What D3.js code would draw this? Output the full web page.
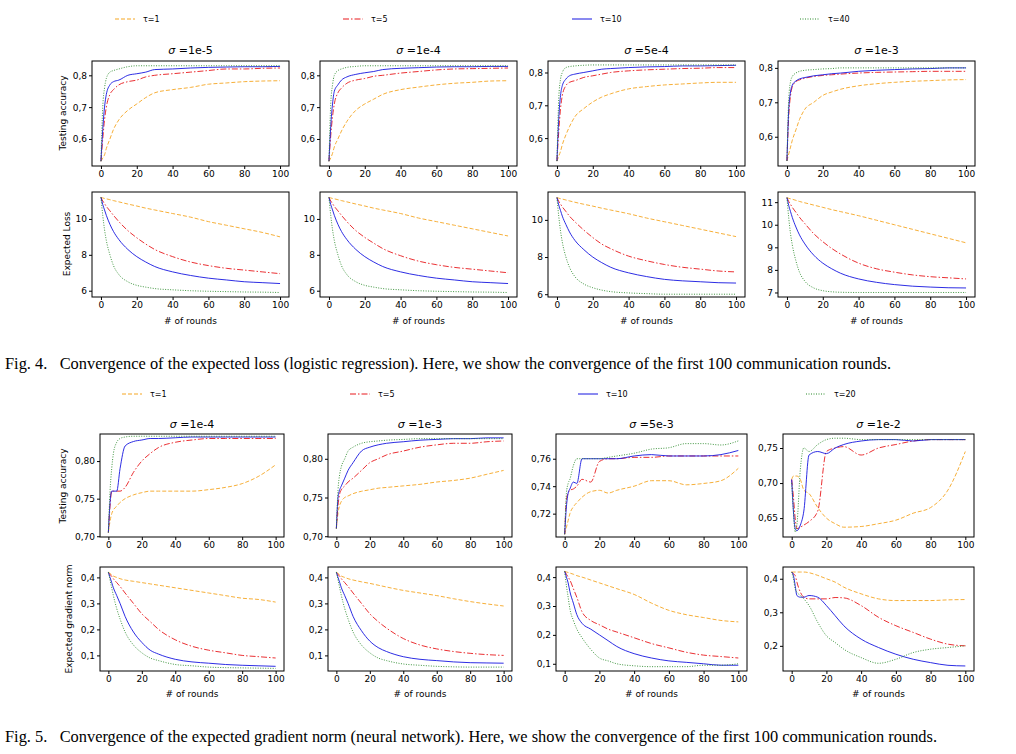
<!DOCTYPE html>
<html><head><meta charset="utf-8">
<script src="https://cdn.jsdelivr.net/npm/d3@7"></script>
<style>body{margin:0;background:#fff}</style>
</head><body><svg id="fig"></svg>
<script>
// sampled rounds shared by every curve
const rounds = [0,1,2,3,5,7,10,15,20,25,30,40,50,60,70,80,90,100];

// Fig. 4 (logistic regression)
const fig4Taus = ["τ=1","τ=5","τ=10","τ=40"];
const fig4Sigmas = ["1e-5","1e-4","5e-4","1e-3"];
const fig4Acc = [
  [[0.53,0.54,0.55,0.57,0.60,0.63,0.66,0.69,0.71,0.73,0.745,0.755,0.762,0.772,0.776,0.78,0.782,0.783],
   [0.53,0.60,0.66,0.70,0.74,0.755,0.77,0.78,0.785,0.795,0.80,0.805,0.81,0.815,0.82,0.82,0.822,0.823],
   [0.53,0.63,0.70,0.74,0.77,0.78,0.785,0.80,0.805,0.81,0.818,0.82,0.823,0.825,0.826,0.827,0.827,0.828],
   [0.53,0.70,0.76,0.79,0.81,0.815,0.82,0.827,0.83,0.83,0.83,0.83,0.83,0.83,0.83,0.83,0.83,0.83]],
  [[0.53,0.54,0.555,0.575,0.60,0.625,0.655,0.69,0.71,0.725,0.74,0.755,0.763,0.77,0.775,0.778,0.782,0.783],
   [0.53,0.61,0.67,0.71,0.745,0.76,0.775,0.785,0.79,0.797,0.80,0.807,0.812,0.817,0.82,0.821,0.822,0.823],
   [0.53,0.64,0.71,0.75,0.77,0.785,0.795,0.803,0.808,0.812,0.818,0.822,0.824,0.826,0.827,0.827,0.828,0.828],
   [0.53,0.71,0.77,0.80,0.815,0.82,0.825,0.828,0.83,0.83,0.83,0.83,0.83,0.83,0.83,0.83,0.83,0.83]],
  [[0.53,0.545,0.56,0.58,0.61,0.635,0.665,0.69,0.71,0.725,0.735,0.75,0.757,0.762,0.765,0.768,0.77,0.77],
   [0.53,0.62,0.69,0.73,0.76,0.77,0.775,0.785,0.79,0.795,0.80,0.805,0.808,0.81,0.812,0.813,0.815,0.815],
   [0.53,0.66,0.73,0.76,0.78,0.79,0.795,0.80,0.805,0.81,0.812,0.815,0.817,0.818,0.82,0.82,0.821,0.822],
   [0.53,0.72,0.78,0.80,0.815,0.818,0.82,0.822,0.823,0.823,0.823,0.823,0.823,0.823,0.823,0.823,0.823,0.823]],
  [[0.53,0.55,0.57,0.59,0.62,0.65,0.68,0.70,0.72,0.73,0.738,0.748,0.754,0.758,0.761,0.763,0.765,0.766],
   [0.53,0.66,0.72,0.745,0.76,0.765,0.77,0.775,0.778,0.78,0.782,0.785,0.787,0.788,0.789,0.79,0.79,0.79],
   [0.53,0.68,0.73,0.75,0.762,0.768,0.772,0.777,0.78,0.783,0.785,0.79,0.793,0.795,0.797,0.798,0.80,0.80],
   [0.53,0.71,0.76,0.775,0.785,0.79,0.793,0.795,0.797,0.798,0.80,0.80,0.80,0.80,0.80,0.80,0.80,0.80]]
];
const fig4Loss = [
  [[11.2,11.17,11.14,11.12,11.07,11.02,10.95,10.83,10.72,10.6,10.5,10.3,10.1,9.85,9.65,9.45,9.25,9.0],
   [11.2,11.0,10.85,10.7,10.45,10.2,9.85,9.35,8.95,8.6,8.3,7.9,7.6,7.4,7.25,7.15,7.05,6.95],
   [11.2,10.8,10.5,10.2,9.7,9.3,8.85,8.3,7.9,7.6,7.35,7.05,6.85,6.7,6.6,6.5,6.45,6.4],
   [11.2,10.2,9.4,8.8,8.0,7.4,6.9,6.5,6.3,6.2,6.12,6.05,6.0,5.97,5.95,5.93,5.92,5.9]],
  [[11.2,11.17,11.14,11.12,11.07,11.02,10.95,10.83,10.72,10.6,10.5,10.3,10.05,9.85,9.65,9.45,9.25,9.05],
   [11.2,11.0,10.85,10.7,10.45,10.2,9.85,9.35,8.97,8.65,8.35,7.95,7.65,7.45,7.3,7.2,7.1,7.0],
   [11.2,10.8,10.5,10.2,9.7,9.3,8.85,8.3,7.9,7.6,7.35,7.05,6.85,6.7,6.6,6.5,6.45,6.4],
   [11.2,10.2,9.4,8.8,8.0,7.4,6.9,6.5,6.3,6.2,6.12,6.05,6.0,5.97,5.95,5.93,5.92,5.9]],
  [[11.2,11.17,11.14,11.12,11.07,11.02,10.95,10.84,10.74,10.63,10.53,10.33,10.1,9.9,9.7,9.5,9.3,9.1],
   [11.2,11.0,10.85,10.7,10.45,10.2,9.9,9.45,9.05,8.7,8.45,8.05,7.8,7.6,7.45,7.35,7.25,7.2],
   [11.2,10.8,10.5,10.2,9.75,9.35,8.9,8.4,8.0,7.7,7.45,7.15,6.95,6.8,6.72,6.67,6.62,6.6],
   [11.2,10.2,9.4,8.8,8.0,7.45,6.95,6.55,6.35,6.22,6.14,6.07,6.03,6.0,6.0,6.0,6.0,6.0]],
  [[11.2,11.17,11.15,11.13,11.08,11.03,10.97,10.87,10.77,10.67,10.58,10.4,10.2,10.0,9.8,9.6,9.4,9.2],
   [11.2,11.03,10.9,10.77,10.55,10.33,10.05,9.6,9.25,8.95,8.7,8.3,8.05,7.9,7.78,7.7,7.65,7.6],
   [11.2,10.85,10.58,10.32,9.9,9.55,9.15,8.65,8.3,8.05,7.85,7.6,7.45,7.35,7.28,7.24,7.21,7.2],
   [11.2,10.3,9.6,9.1,8.4,7.9,7.5,7.2,7.08,7.03,7.01,7.0,7.0,7.0,7.0,7.0,7.0,7.0]]
];
const fig4AccDomain = [[0.515,0.845],[0.515,0.845],[0.515,0.835],[0.515,0.82]];
const fig4AccTicks = [0.6,0.7,0.8];
const fig4LossDomain = [[5.65,11.5],[5.65,11.5],[5.85,11.5],[6.8,11.45]];
const fig4LossTicks = [[6,8,10],[6,8,10],[6,8,10],[7,8,9,10,11]];

// Fig. 5 (neural network)
const fig5Taus = ["τ=1","τ=5","τ=10","τ=20"];
const fig5Sigmas = ["1e-4","1e-3","5e-3","1e-2"];
const fig5Acc = [
  [[0.705,0.72,0.73,0.735,0.74,0.745,0.75,0.755,0.758,0.76,0.76,0.76,0.76,0.762,0.765,0.77,0.78,0.795],
   [0.705,0.74,0.76,0.76,0.76,0.76,0.765,0.785,0.80,0.81,0.818,0.825,0.828,0.83,0.83,0.83,0.83,0.83],
   [0.705,0.745,0.76,0.76,0.76,0.79,0.82,0.826,0.828,0.83,0.83,0.831,0.832,0.832,0.832,0.832,0.832,0.832],
   [0.705,0.76,0.79,0.81,0.825,0.83,0.832,0.833,0.833,0.833,0.833,0.833,0.833,0.833,0.833,0.833,0.833,0.833]],
  [[0.71,0.73,0.74,0.745,0.75,0.752,0.755,0.758,0.76,0.762,0.763,0.765,0.767,0.77,0.772,0.775,0.78,0.785],
   [0.71,0.74,0.755,0.76,0.765,0.77,0.775,0.785,0.795,0.80,0.805,0.81,0.815,0.818,0.82,0.82,0.822,0.823],
   [0.71,0.75,0.76,0.765,0.775,0.785,0.795,0.81,0.815,0.818,0.82,0.822,0.824,0.825,0.826,0.826,0.827,0.827],
   [0.71,0.76,0.78,0.79,0.80,0.81,0.815,0.82,0.822,0.823,0.824,0.825,0.826,0.826,0.826,0.826,0.826,0.826]],
  [[0.705,0.71,0.715,0.72,0.725,0.728,0.732,0.736,0.737,0.735,0.737,0.74,0.744,0.744,0.741,0.742,0.744,0.753],
   [0.705,0.73,0.735,0.737,0.738,0.74,0.745,0.743,0.758,0.76,0.76,0.761,0.761,0.762,0.762,0.762,0.762,0.762],
   [0.705,0.725,0.735,0.738,0.743,0.742,0.76,0.76,0.76,0.76,0.76,0.762,0.763,0.762,0.762,0.762,0.763,0.766],
   [0.705,0.735,0.742,0.745,0.755,0.76,0.76,0.76,0.76,0.761,0.762,0.764,0.767,0.768,0.771,0.771,0.77,0.773]],
  [[0.705,0.71,0.71,0.71,0.705,0.69,0.685,0.665,0.65,0.642,0.637,0.638,0.642,0.647,0.657,0.665,0.69,0.745],
   [0.705,0.68,0.65,0.635,0.637,0.64,0.645,0.66,0.745,0.75,0.752,0.74,0.75,0.755,0.76,0.762,0.762,0.762],
   [0.705,0.66,0.635,0.632,0.64,0.66,0.74,0.745,0.742,0.75,0.755,0.76,0.762,0.762,0.76,0.762,0.762,0.762],
   [0.70,0.66,0.63,0.64,0.72,0.75,0.745,0.755,0.762,0.764,0.764,0.762,0.762,0.762,0.762,0.762,0.762,0.762]]
];
const fig5Norm = [
  [[0.42,0.415,0.41,0.405,0.40,0.395,0.39,0.385,0.38,0.375,0.37,0.36,0.35,0.34,0.33,0.32,0.315,0.305],
   [0.42,0.41,0.405,0.395,0.38,0.365,0.34,0.30,0.26,0.23,0.20,0.16,0.135,0.12,0.11,0.10,0.095,0.09],
   [0.42,0.40,0.38,0.36,0.33,0.30,0.25,0.19,0.15,0.12,0.105,0.085,0.075,0.07,0.065,0.062,0.06,0.058],
   [0.42,0.39,0.36,0.33,0.28,0.24,0.19,0.14,0.11,0.09,0.08,0.065,0.06,0.055,0.053,0.052,0.051,0.05]],
  [[0.42,0.415,0.41,0.405,0.40,0.395,0.39,0.383,0.377,0.37,0.363,0.35,0.34,0.33,0.318,0.307,0.298,0.29],
   [0.42,0.41,0.405,0.395,0.38,0.365,0.34,0.30,0.26,0.23,0.205,0.165,0.14,0.125,0.115,0.108,0.103,0.10],
   [0.42,0.40,0.38,0.36,0.33,0.30,0.25,0.195,0.155,0.13,0.115,0.095,0.085,0.08,0.075,0.072,0.071,0.07],
   [0.42,0.39,0.36,0.33,0.28,0.24,0.19,0.14,0.11,0.09,0.08,0.067,0.062,0.058,0.056,0.055,0.055,0.055]],
  [[0.42,0.418,0.416,0.414,0.41,0.405,0.40,0.39,0.38,0.37,0.36,0.34,0.31,0.285,0.27,0.26,0.25,0.245],
   [0.42,0.41,0.40,0.39,0.36,0.33,0.28,0.25,0.235,0.22,0.21,0.19,0.17,0.155,0.14,0.13,0.125,0.12],
   [0.42,0.40,0.38,0.35,0.31,0.27,0.24,0.22,0.20,0.18,0.16,0.135,0.12,0.11,0.105,0.10,0.095,0.095],
   [0.42,0.37,0.33,0.29,0.25,0.22,0.19,0.15,0.12,0.11,0.10,0.093,0.09,0.09,0.09,0.095,0.095,0.10]],
  [[0.42,0.42,0.42,0.42,0.42,0.42,0.418,0.41,0.40,0.39,0.375,0.355,0.34,0.335,0.335,0.335,0.337,0.338],
   [0.42,0.415,0.41,0.39,0.36,0.345,0.34,0.34,0.34,0.344,0.343,0.32,0.285,0.26,0.24,0.22,0.205,0.20],
   [0.42,0.41,0.38,0.35,0.345,0.345,0.35,0.345,0.32,0.29,0.26,0.22,0.195,0.175,0.16,0.15,0.142,0.14],
   [0.42,0.40,0.37,0.36,0.35,0.34,0.32,0.27,0.23,0.21,0.19,0.165,0.148,0.16,0.18,0.19,0.195,0.20]]
];
const fig5AccDomain = [[0.699,0.836],[0.699,0.832],[0.703,0.778],[0.623,0.77]];
const fig5AccTicks = [[0.70,0.75,0.80],[0.70,0.75,0.80],[0.72,0.74,0.76],[0.65,0.70,0.75]];
const fig5NormDomain = [[0.04,0.44],[0.04,0.44],[0.075,0.435],[0.125,0.435]];
const fig5NormTicks = [[0.1,0.2,0.3,0.4],[0.1,0.2,0.3,0.4],[0.1,0.2,0.3,0.4],[0.2,0.3,0.4]];
const xTicks = [0,20,40,60,80,100];

const captions = [
  "Fig. 4.   Convergence of the expected loss (logistic regression). Here, we show the convergence of the first 100 communication rounds.",
  "Fig. 5.   Convergence of the expected gradient norm (neural network). Here, we show the convergence of the first 100 communication rounds."
];

const W = 1016, H = 754;
const colors = ["#f5a623","#e8191c","#1515e0","#2b8a2b"];
const dashes = ["4,2","6,2,1.5,2",null,"1,1.5"];
const fmt = d => String(d).replace(".", ",");
const fmt2 = d => d3.format(".2f")(d).replace(".", ",");

const svg = d3.select("#fig").attr("width", W).attr("height", H)
  .style("font-family", "DejaVu Sans, sans-serif");

function panel(x0, x1, y0, y1, yDomain, yTicks, yFmt, series) {
  const x = d3.scaleLinear().domain([-5, 105]).range([x0, x1]);
  const y = d3.scaleLinear().domain(yDomain).range([y1, y0]);
  const g = svg.append("g");
  g.append("g").attr("transform", `translate(0,${y1})`)
    .call(d3.axisBottom(x).tickValues(xTicks).tickSize(3).tickPadding(2))
    .call(a => a.select(".domain").remove());
  g.append("g").attr("transform", `translate(${x0},0)`)
    .call(d3.axisLeft(y).tickValues(yTicks).tickFormat(yFmt).tickSize(3).tickPadding(2))
    .call(a => a.select(".domain").remove());
  g.selectAll(".tick text").style("font-size", "9px").style("font-family", "DejaVu Sans, sans-serif");
  const line = d3.line().x((d, i) => x(rounds[i])).y(d => y(d)).curve(d3.curveMonotoneX);
  series.forEach((s, k) => {
    g.append("path").attr("d", line(s)).attr("fill", "none")
      .attr("stroke", colors[k]).attr("stroke-width", 0.9)
      .attr("stroke-dasharray", dashes[k]);
  });
  g.append("rect").attr("x", x0).attr("y", y0).attr("width", x1 - x0).attr("height", y1 - y0)
    .attr("fill", "none").attr("stroke", "#000").attr("stroke-width", 1);
}

function legend(yy, taus, xs) {
  taus.forEach((t, k) => {
    svg.append("line").attr("x1", xs[k]).attr("x2", xs[k] + 20).attr("y1", yy).attr("y2", yy)
      .attr("stroke", colors[k]).attr("stroke-width", 1).attr("stroke-dasharray", dashes[k]);
    svg.append("text").attr("x", xs[k] + 28).attr("y", yy + 3).style("font-size", "8px").text(t);
  });
}

function title(cx, yy, s) {
  const t = svg.append("text").attr("x", cx).attr("y", yy).attr("text-anchor", "middle").style("font-size", "11px");
  t.append("tspan").style("font-style", "italic").text("σ");
  t.append("tspan").text(" =" + s);
}

function ylabel(x, cy, s) {
  svg.append("text").attr("transform", `translate(${x},${cy}) rotate(-90)`).attr("text-anchor", "middle")
    .style("font-size", "9px").text(s);
}

// Fig. 4
const p4 = [[92,289],[320,517],[548,745],[778,975]];
legend(19, fig4Taus, [115,343,572,800]);
p4.forEach(([a, b], i) => {
  title((a + b) / 2, 54, fig4Sigmas[i]);
  panel(a, b, 61, 166, fig4AccDomain[i], fig4AccTicks, fmt, fig4Acc[i]);
  panel(a, b, 192, 297, fig4LossDomain[i], fig4LossTicks[i], fmt, fig4Loss[i]);
  svg.append("text").attr("x", (a + b) / 2).attr("y", 324).attr("text-anchor", "middle").style("font-size", "9px").text("# of rounds");
});
ylabel(66, 113, "Testing accuracy");
ylabel(70, 244, "Expected Loss");

// Fig. 5
const p5 = [[100,284],[328,512],[556,747],[783,974]];
legend(394, fig5Taus, [122,350,578,806]);
p5.forEach(([a, b], i) => {
  title((a + b) / 2, 428, fig5Sigmas[i]);
  panel(a, b, 434, 537, fig5AccDomain[i], fig5AccTicks[i], fmt2, fig5Acc[i]);
  panel(a, b, 567, 671, fig5NormDomain[i], fig5NormTicks[i], fmt, fig5Norm[i]);
  svg.append("text").attr("x", (a + b) / 2).attr("y", 697).attr("text-anchor", "middle").style("font-size", "9px").text("# of rounds");
});
ylabel(66, 486, "Testing accuracy");
ylabel(72, 619, "Expected gradient norm");

captions.forEach((c, i) => {
  svg.append("text").attr("x", 5).attr("y", i ? 742 : 369).attr("xml:space", "preserve")
    .style("font-family", "Liberation Serif, serif").style("font-size", "16.4px").text(c);
});
</script></body></html>
